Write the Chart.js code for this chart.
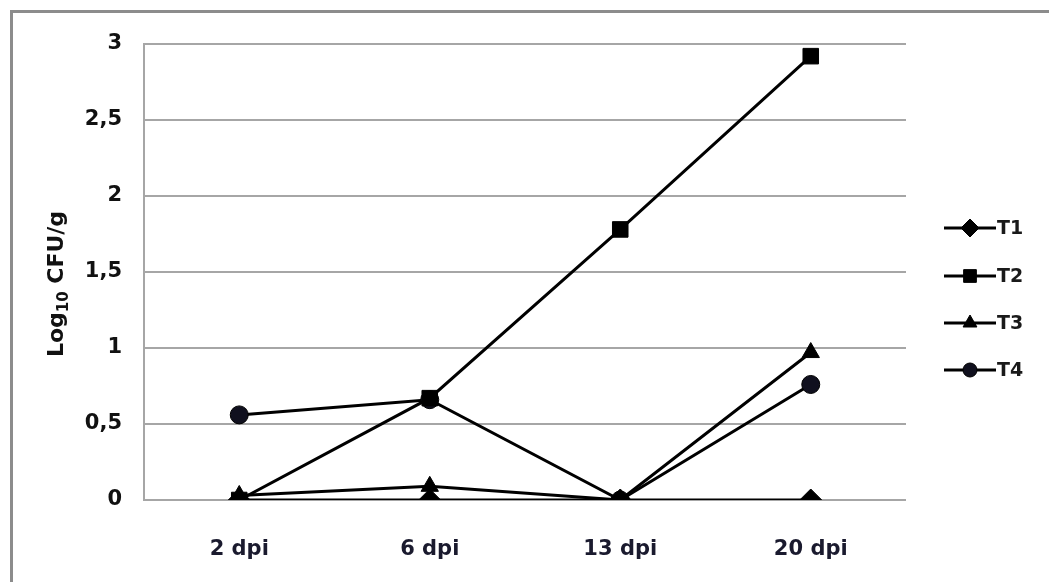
<!DOCTYPE html>
<html>
<head>
<meta charset="utf-8">
<script src="https://cdn.jsdelivr.net/npm/chart.js@4.4.1/dist/chart.umd.min.js"></script>
<style>
  html, body { margin: 0; padding: 0; background: #fff; overflow: hidden; }
  #frame {
    position: absolute; left: 10px; top: 10px; width: 1100px; height: 620px;
    border-top: 3px solid #8c8c8c; border-left: 3px solid #8c8c8c;
  }
  #wrap { position: absolute; left: 0; top: 0; width: 1049px; height: 582px; }
</style>
</head>
<body>
<div id="frame"></div>
<div id="wrap"><canvas id="cfuChart"></canvas></div>
<script>
// categories and series
var days = ['2 dpi', '6 dpi', '13 dpi', '20 dpi'];
var t1Values = [0, 0, 0, 0];
var t2Values = [0, 0.67, 1.78, 2.92];
var t3Values = [0.03, 0.09, 0, 0.97];
var t4Values = [0.56, 0.66, 0, 0.76];
var yTicks = [0, 0.5, 1, 1.5, 2, 2.5, 3];

var seriesNames = ['T1', 'T2', 'T3', 'T4'];
var seriesMarkers = ['rectRot', 'rect', 'triangle', 'circle'];
var markerSizes = [11, 11, 10, 9];

var fontFamily = '"DejaVu Sans", Verdana, sans-serif';

function makeDataset(i, values) {
    return {
        label: seriesNames[i],
        data: values,
        borderColor: '#000',
        backgroundColor: i === 3 ? '#10101e' : '#000',
        borderWidth: 3,
        pointStyle: seriesMarkers[i],
        pointRadius: markerSizes[i],
        pointBorderWidth: 1,
        pointBorderColor: '#000',
        tension: 0
    };
}

// legend with line + marker, like the spreadsheet one
var lineLegend = {
    id: 'lineLegend',
    afterDraw: function(chart) {
        const ctx = chart.ctx;
        const ys = [228, 276, 323, 370];
        ctx.save();
        chart.data.datasets.forEach(function(ds, i) {
            const y = ys[i];
            ctx.strokeStyle = '#000';
            ctx.lineWidth = 3;
            ctx.beginPath();
            ctx.moveTo(944, y);
            ctx.lineTo(996, y);
            ctx.stroke();
            ctx.fillStyle = ds.backgroundColor;
            ctx.lineWidth = 1;
            Chart.helpers.drawPoint(ctx, {
                pointStyle: ds.pointStyle,
                radius: ds.pointRadius - 2,
                borderWidth: 1
            }, 970, y);
            ctx.fillStyle = '#1a1a1a';
            ctx.font = 'bold 19px ' + fontFamily;
            ctx.textAlign = 'left';
            ctx.textBaseline = 'middle';
            ctx.fillText(ds.label, 997, y + 1);
        });
        ctx.restore();
    }
};

// y title with a real subscript
var yTitle = {
    id: 'yTitle',
    afterDraw: function(chart) {
        const ctx = chart.ctx;
        const big = 'bold 22px ' + fontFamily;
        const small = 'bold 15px ' + fontFamily;
        ctx.save();
        ctx.font = big;
        const w1 = ctx.measureText('Log').width;
        const w3 = ctx.measureText(' CFU/g').width;
        ctx.font = small;
        const w2 = ctx.measureText('10').width;
        const total = w1 + w2 + w3;
        ctx.translate(57, 284);
        ctx.rotate(-Math.PI / 2);
        ctx.fillStyle = '#111';
        ctx.textBaseline = 'middle';
        ctx.textAlign = 'left';
        let x = -total / 2;
        ctx.font = big;
        ctx.fillText('Log', x, 0);
        x += w1;
        ctx.font = small;
        ctx.fillText('10', x, 7);
        x += w2;
        ctx.font = big;
        ctx.fillText(' CFU/g', x, 0);
        ctx.restore();
    }
};

new Chart(document.getElementById('cfuChart'), {
    type: 'line',
    data: {
        labels: days,
        datasets: [
            makeDataset(0, t1Values),
            makeDataset(1, t2Values),
            makeDataset(2, t3Values),
            makeDataset(3, t4Values)
        ]
    },
    options: {
        responsive: true,
        maintainAspectRatio: false,
        animation: false,
        layout: { padding: { top: 44, right: 143, left: 0, bottom: 0 } },
        plugins: { legend: { display: false }, tooltip: { enabled: false } },
        scales: {
            x: {
                offset: true,
                grid: { display: false, drawTicks: false },
                border: { display: false },
                ticks: {
                    color: '#1a1a2e',
                    padding: 37,
                    font: { family: fontFamily, size: 21, weight: 'bold' }
                },
                afterFit: function(scale) { scale.height = 82; }
            },
            y: {
                min: 0,
                max: 3,
                afterBuildTicks: function(scale) {
                    scale.ticks = yTicks.map(function(v) { return { value: v }; });
                },
                grid: { color: '#a6a6a6', lineWidth: 2, drawTicks: false },
                border: { display: true, color: '#a6a6a6', width: 2 },
                ticks: {
                    color: '#111',
                    padding: 22,
                    font: { family: fontFamily, size: 21, weight: 'bold' },
                    callback: function(v) { return String(v).replace('.', ','); }
                },
                afterFit: function(scale) { scale.width = 144; }
            }
        }
    },
    plugins: [lineLegend, yTitle]
});
</script>
</body>
</html>
